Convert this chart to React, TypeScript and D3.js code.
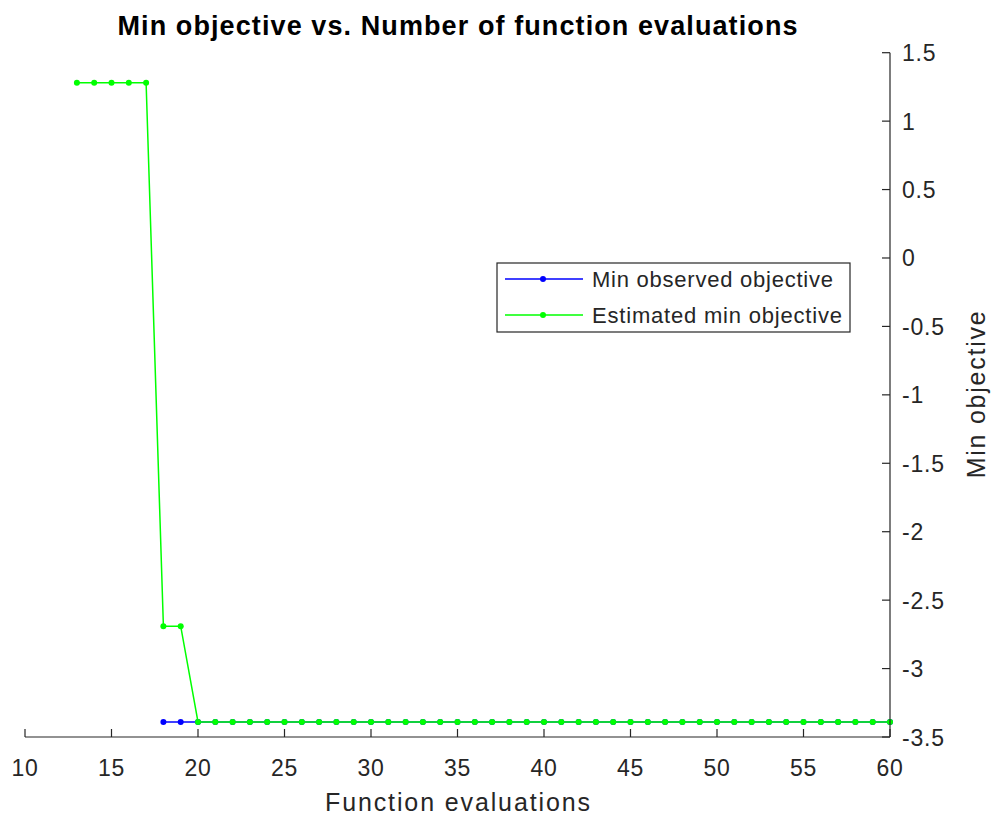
import React from "react";
import * as d3 from "d3";

const estX = [13, 14, 15, 16, 17, 18, 19, 20, 21, 22, 23, 24, 25, 26, 27, 28, 29, 30, 31, 32, 33, 34, 35, 36, 37, 38, 39, 40, 41, 42, 43, 44, 45, 46, 47, 48, 49, 50, 51, 52, 53, 54, 55, 56, 57, 58, 59, 60];
const estY = [1.28, 1.28, 1.28, 1.28, 1.28, -2.69, -2.69, -3.39, -3.39, -3.39, -3.39, -3.39, -3.39, -3.39, -3.39, -3.39, -3.39, -3.39, -3.39, -3.39, -3.39, -3.39, -3.39, -3.39, -3.39, -3.39, -3.39, -3.39, -3.39, -3.39, -3.39, -3.39, -3.39, -3.39, -3.39, -3.39, -3.39, -3.39, -3.39, -3.39, -3.39, -3.39, -3.39, -3.39, -3.39, -3.39, -3.39, -3.39];
const obsX = [18, 19, 20, 21, 22, 23, 24, 25, 26, 27, 28, 29, 30, 31, 32, 33, 34, 35, 36, 37, 38, 39, 40, 41, 42, 43, 44, 45, 46, 47, 48, 49, 50, 51, 52, 53, 54, 55, 56, 57, 58, 59, 60];
const obsY = [-3.39, -3.39, -3.39, -3.39, -3.39, -3.39, -3.39, -3.39, -3.39, -3.39, -3.39, -3.39, -3.39, -3.39, -3.39, -3.39, -3.39, -3.39, -3.39, -3.39, -3.39, -3.39, -3.39, -3.39, -3.39, -3.39, -3.39, -3.39, -3.39, -3.39, -3.39, -3.39, -3.39, -3.39, -3.39, -3.39, -3.39, -3.39, -3.39, -3.39, -3.39, -3.39, -3.39];
const xTicks = [10, 15, 20, 25, 30, 35, 40, 45, 50, 55, 60];
const yTicks = [1.5, 1, 0.5, 0, -0.5, -1, -1.5, -2, -2.5, -3, -3.5];
const seriesNames = ["Min observed objective", "Estimated min objective"];
const seriesColors = ["#0000ff", "#00ff00"];
const titleText = "Min objective vs. Number of function evaluations";
const xLabel = "Function evaluations";
const yLabel = "Min objective";

const W = 992;
const H = 818;
const FONT = "'Liberation Sans', Arial, Helvetica, sans-serif";

export default function App() {
  const x = d3.scaleLinear().domain([10, 60]).range([25, 890]);
  const y = d3.scaleLinear().domain([-3.5, 1.5]).range([737, 52.7]);
  const line = d3
    .line<[number, number]>()
    .x((d) => x(d[0]))
    .y((d) => y(d[1]));
  const obs: [number, number][] = obsX.map((v, i) => [v, obsY[i]]);
  const est: [number, number][] = estX.map((v, i) => [v, estY[i]]);
  const series = [obs, est];
  const axisColor = "#262626";
  const textColor = "#262626";

  return (
    <svg
      width={W}
      height={H}
      style={{ position: "absolute", left: 0, top: 0, background: "#fff" }}
      fontFamily={FONT}
    >
      <rect x={0} y={0} width={W} height={H} fill="#fff" />
      {series.map((s, si) => (
        <g key={si}>
          <path d={line(s) || ""} fill="none" stroke={seriesColors[si]} strokeWidth={1.5} />
          {s.map((d, i) => (
            <circle key={i} cx={x(d[0])} cy={y(d[1])} r={3} fill={seriesColors[si]} />
          ))}
        </g>
      ))}
      <line x1={x(10)} x2={x(60)} y1={737} y2={737} stroke={axisColor} strokeWidth={1.2} />
      {xTicks.map((t) => (
        <g key={t}>
          <line x1={x(t)} x2={x(t)} y1={737} y2={729} stroke={axisColor} strokeWidth={1.2} />
          <text
            x={x(t)}
            y={776}
            textAnchor="middle"
            fontSize={23}
            letterSpacing={0.8}
            fill={textColor}
          >
            {String(t)}
          </text>
        </g>
      ))}
      <line x1={890} x2={890} y1={y(1.5)} y2={y(-3.5)} stroke={axisColor} strokeWidth={1.2} />
      {yTicks.map((t) => (
        <g key={t}>
          <line x1={890} x2={882} y1={y(t)} y2={y(t)} stroke={axisColor} strokeWidth={1.2} />
          <text x={902} y={y(t) + 8.5} fontSize={23} letterSpacing={0.8} fill={textColor}>
            {String(t)}
          </text>
        </g>
      ))}
      <text
        x={457.5}
        y={35}
        textAnchor="middle"
        fontSize={27}
        fontWeight="bold"
        textLength={680}
        lengthAdjust="spacing"
        fill="#000"
      >
        {titleText}
      </text>
      <text
        x={457.5}
        y={811}
        textAnchor="middle"
        fontSize={25}
        textLength={265}
        lengthAdjust="spacing"
        fill={textColor}
      >
        {xLabel}
      </text>
      <text
        transform={`translate(985, ${(y(1.5) + y(-3.5)) / 2}) rotate(-90)`}
        textAnchor="middle"
        fontSize={25}
        textLength={167}
        lengthAdjust="spacing"
        fill={textColor}
      >
        {yLabel}
      </text>
      <g>
        <rect x={497} y={263} width={353} height={69} fill="#fff" stroke={axisColor} strokeWidth={1.2} />
        {seriesNames.map((n, i) => {
          const ly = 279 + i * 36;
          return (
            <g key={n}>
              <line x1={505} x2={583} y1={ly} y2={ly} stroke={seriesColors[i]} strokeWidth={1.5} />
              <circle cx={543} cy={ly} r={3} fill={seriesColors[i]} />
              <text
                x={592}
                y={ly + 8}
                fontSize={22}
                textLength={i === 0 ? 241 : 250}
                lengthAdjust="spacing"
                fill={textColor}
              >
                {n}
              </text>
            </g>
          );
        })}
      </g>
    </svg>
  );
}
